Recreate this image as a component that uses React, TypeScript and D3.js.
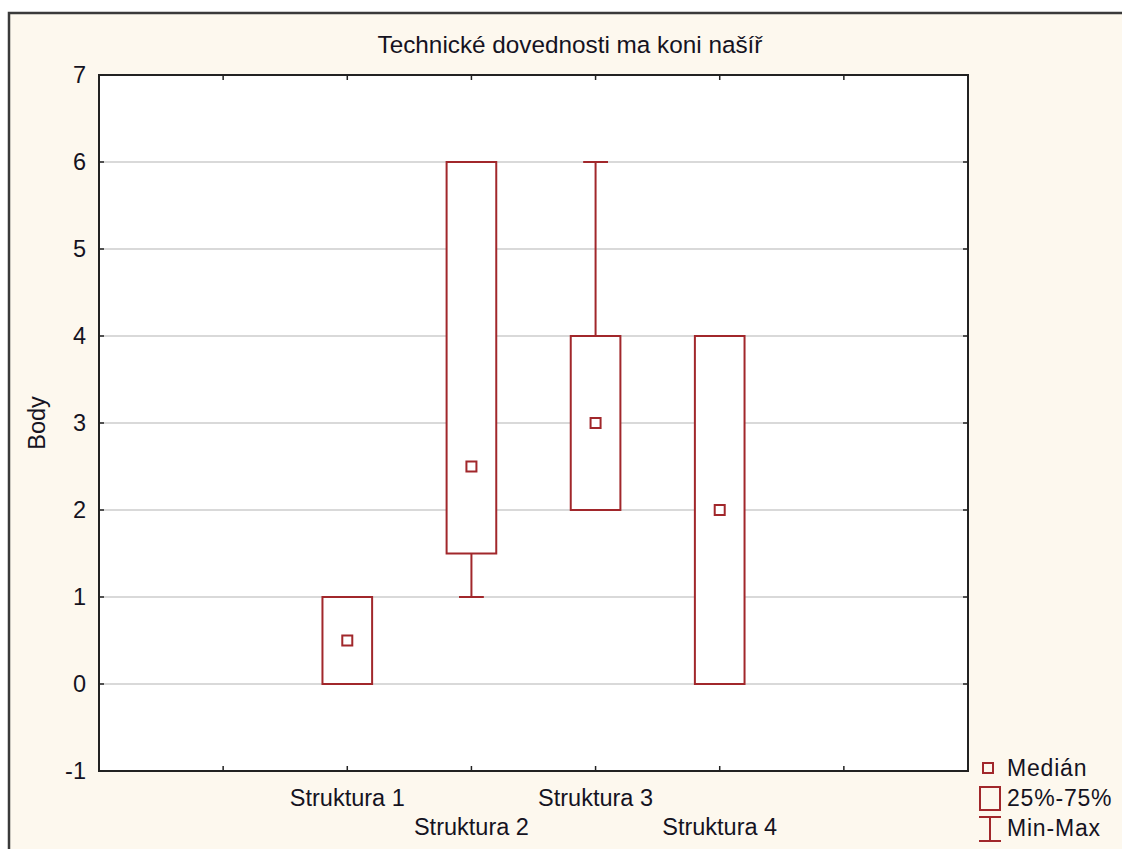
import React from "react";
import * as d3 from "d3";

const categories = ["Struktura 1", "Struktura 2", "Struktura 3", "Struktura 4"];
const mins = [0, 1, 2, 0];
const q1s = [0, 1.5, 2, 0];
const medians = [0.5, 2.5, 3, 2];
const q3s = [1, 6, 4, 4];
const maxs = [1, 6, 6, 4];
const yTicks = [-1, 0, 1, 2, 3, 4, 5, 6, 7];
const gridValues = [0, 1, 2, 3, 4, 5, 6];
const xTickSlots = [1, 2, 3, 4, 5, 6];
const categorySlots = [2, 3, 4, 5];
const title = "Technické dovednosti ma koni našíř";
const yLabel = "Body";
const legendLabels = ["Medián", "25%-75%", "Min-Max"];

const W = 1122;
const H = 849;
const left = 99, right = 968, top = 75, bottom = 771;
const RED = "#a1272b";
const FONT = "'Liberation Sans', Arial, sans-serif";
const TEXT = "#15131f";

export default function App() {
  const x = d3.scaleLinear().domain([0, 7]).range([left, right]);
  const y = d3.scaleLinear().domain([-1, 7]).range([bottom, top]);
  const boxHalf = 0.2;
  const capHalf = 0.1;
  const medHalf = 5;
  const tickLen = 5;

  return (
    <svg width={W} height={H} style={{ position: "absolute", left: 0, top: 0, background: "#fff" }}>
      <rect x={9} y={13} width={W + 10} height={H + 10} fill="#fdf8ee" stroke="#3a3a3a" strokeWidth={2.5} />
      <rect x={left} y={top} width={right - left} height={bottom - top} fill="#fff" />
      {gridValues.map((v) => (
        <line key={"g" + v} x1={left} x2={right} y1={y(v)} y2={y(v)} stroke="#d9d9d9" strokeWidth={2} />
      ))}
      {categories.map((c, i) => {
        const cx = x(categorySlots[i]);
        const bx0 = x(categorySlots[i] - boxHalf);
        const bx1 = x(categorySlots[i] + boxHalf);
        const cx0 = x(categorySlots[i] - capHalf);
        const cx1 = x(categorySlots[i] + capHalf);
        return (
          <g key={c} stroke={RED} strokeWidth={2} fill="none">
            {maxs[i] > q3s[i] && (
              <g>
                <line x1={cx} x2={cx} y1={y(q3s[i])} y2={y(maxs[i])} />
                <line x1={cx0} x2={cx1} y1={y(maxs[i])} y2={y(maxs[i])} />
              </g>
            )}
            {mins[i] < q1s[i] && (
              <g>
                <line x1={cx} x2={cx} y1={y(q1s[i])} y2={y(mins[i])} />
                <line x1={cx0} x2={cx1} y1={y(mins[i])} y2={y(mins[i])} />
              </g>
            )}
            <rect x={bx0} y={y(q3s[i])} width={bx1 - bx0} height={y(q1s[i]) - y(q3s[i])} fill="#fff" />
            <rect x={cx - medHalf} y={y(medians[i]) - medHalf} width={medHalf * 2} height={medHalf * 2} fill="#fff" />
          </g>
        );
      })}
      <rect x={left} y={top} width={right - left} height={bottom - top} fill="none" stroke="#222" strokeWidth={2} />
      {yTicks.map((v) => (
        <g key={"yt" + v}>
          <line x1={left} x2={left + tickLen} y1={y(v)} y2={y(v)} stroke="#222" strokeWidth={1.5} />
          <line x1={right - tickLen} x2={right} y1={y(v)} y2={y(v)} stroke="#222" strokeWidth={1.5} />
          <text x={86} y={y(v)} dy="0.36em" textAnchor="end" fontFamily={FONT} fontSize={23.5} fill={TEXT}>
            {v}
          </text>
        </g>
      ))}
      {xTickSlots.map((s) => (
        <g key={"xt" + s}>
          <line x1={x(s)} x2={x(s)} y1={top} y2={top + tickLen} stroke="#222" strokeWidth={1.5} />
          <line x1={x(s)} x2={x(s)} y1={bottom - tickLen} y2={bottom} stroke="#222" strokeWidth={1.5} />
        </g>
      ))}
      {categories.map((c, i) => (
        <text key={"cl" + c} x={x(categorySlots[i])} y={i % 2 === 0 ? 806 : 835} textAnchor="middle" fontFamily={FONT} fontSize={23.5} fill={TEXT}>
          {c}
        </text>
      ))}
      <text x={570} y={53} textAnchor="middle" fontFamily={FONT} fontSize={24.3} fill={TEXT}>
        {title}
      </text>
      <text transform={`translate(45, ${(top + bottom) / 2}) rotate(-90)`} textAnchor="middle" fontFamily={FONT} fontSize={23.5} fill={TEXT}>
        {yLabel}
      </text>
      <g stroke={RED} strokeWidth={2} fill="none">
        <rect x={983} y={763} width={10} height={10} />
        <rect x={980} y={787} width={20} height={23} />
        <line x1={990} x2={990} y1={817} y2={841} />
        <line x1={979} x2={1001} y1={817} y2={817} />
        <line x1={979} x2={1001} y1={841} y2={841} />
      </g>
      {legendLabels.map((l, i) => (
        <text key={l} x={1007} y={776 + i * 30} fontFamily={FONT} fontSize={23} letterSpacing={0.8} fill={TEXT}>
          {l}
        </text>
      ))}
    </svg>
  );
}
